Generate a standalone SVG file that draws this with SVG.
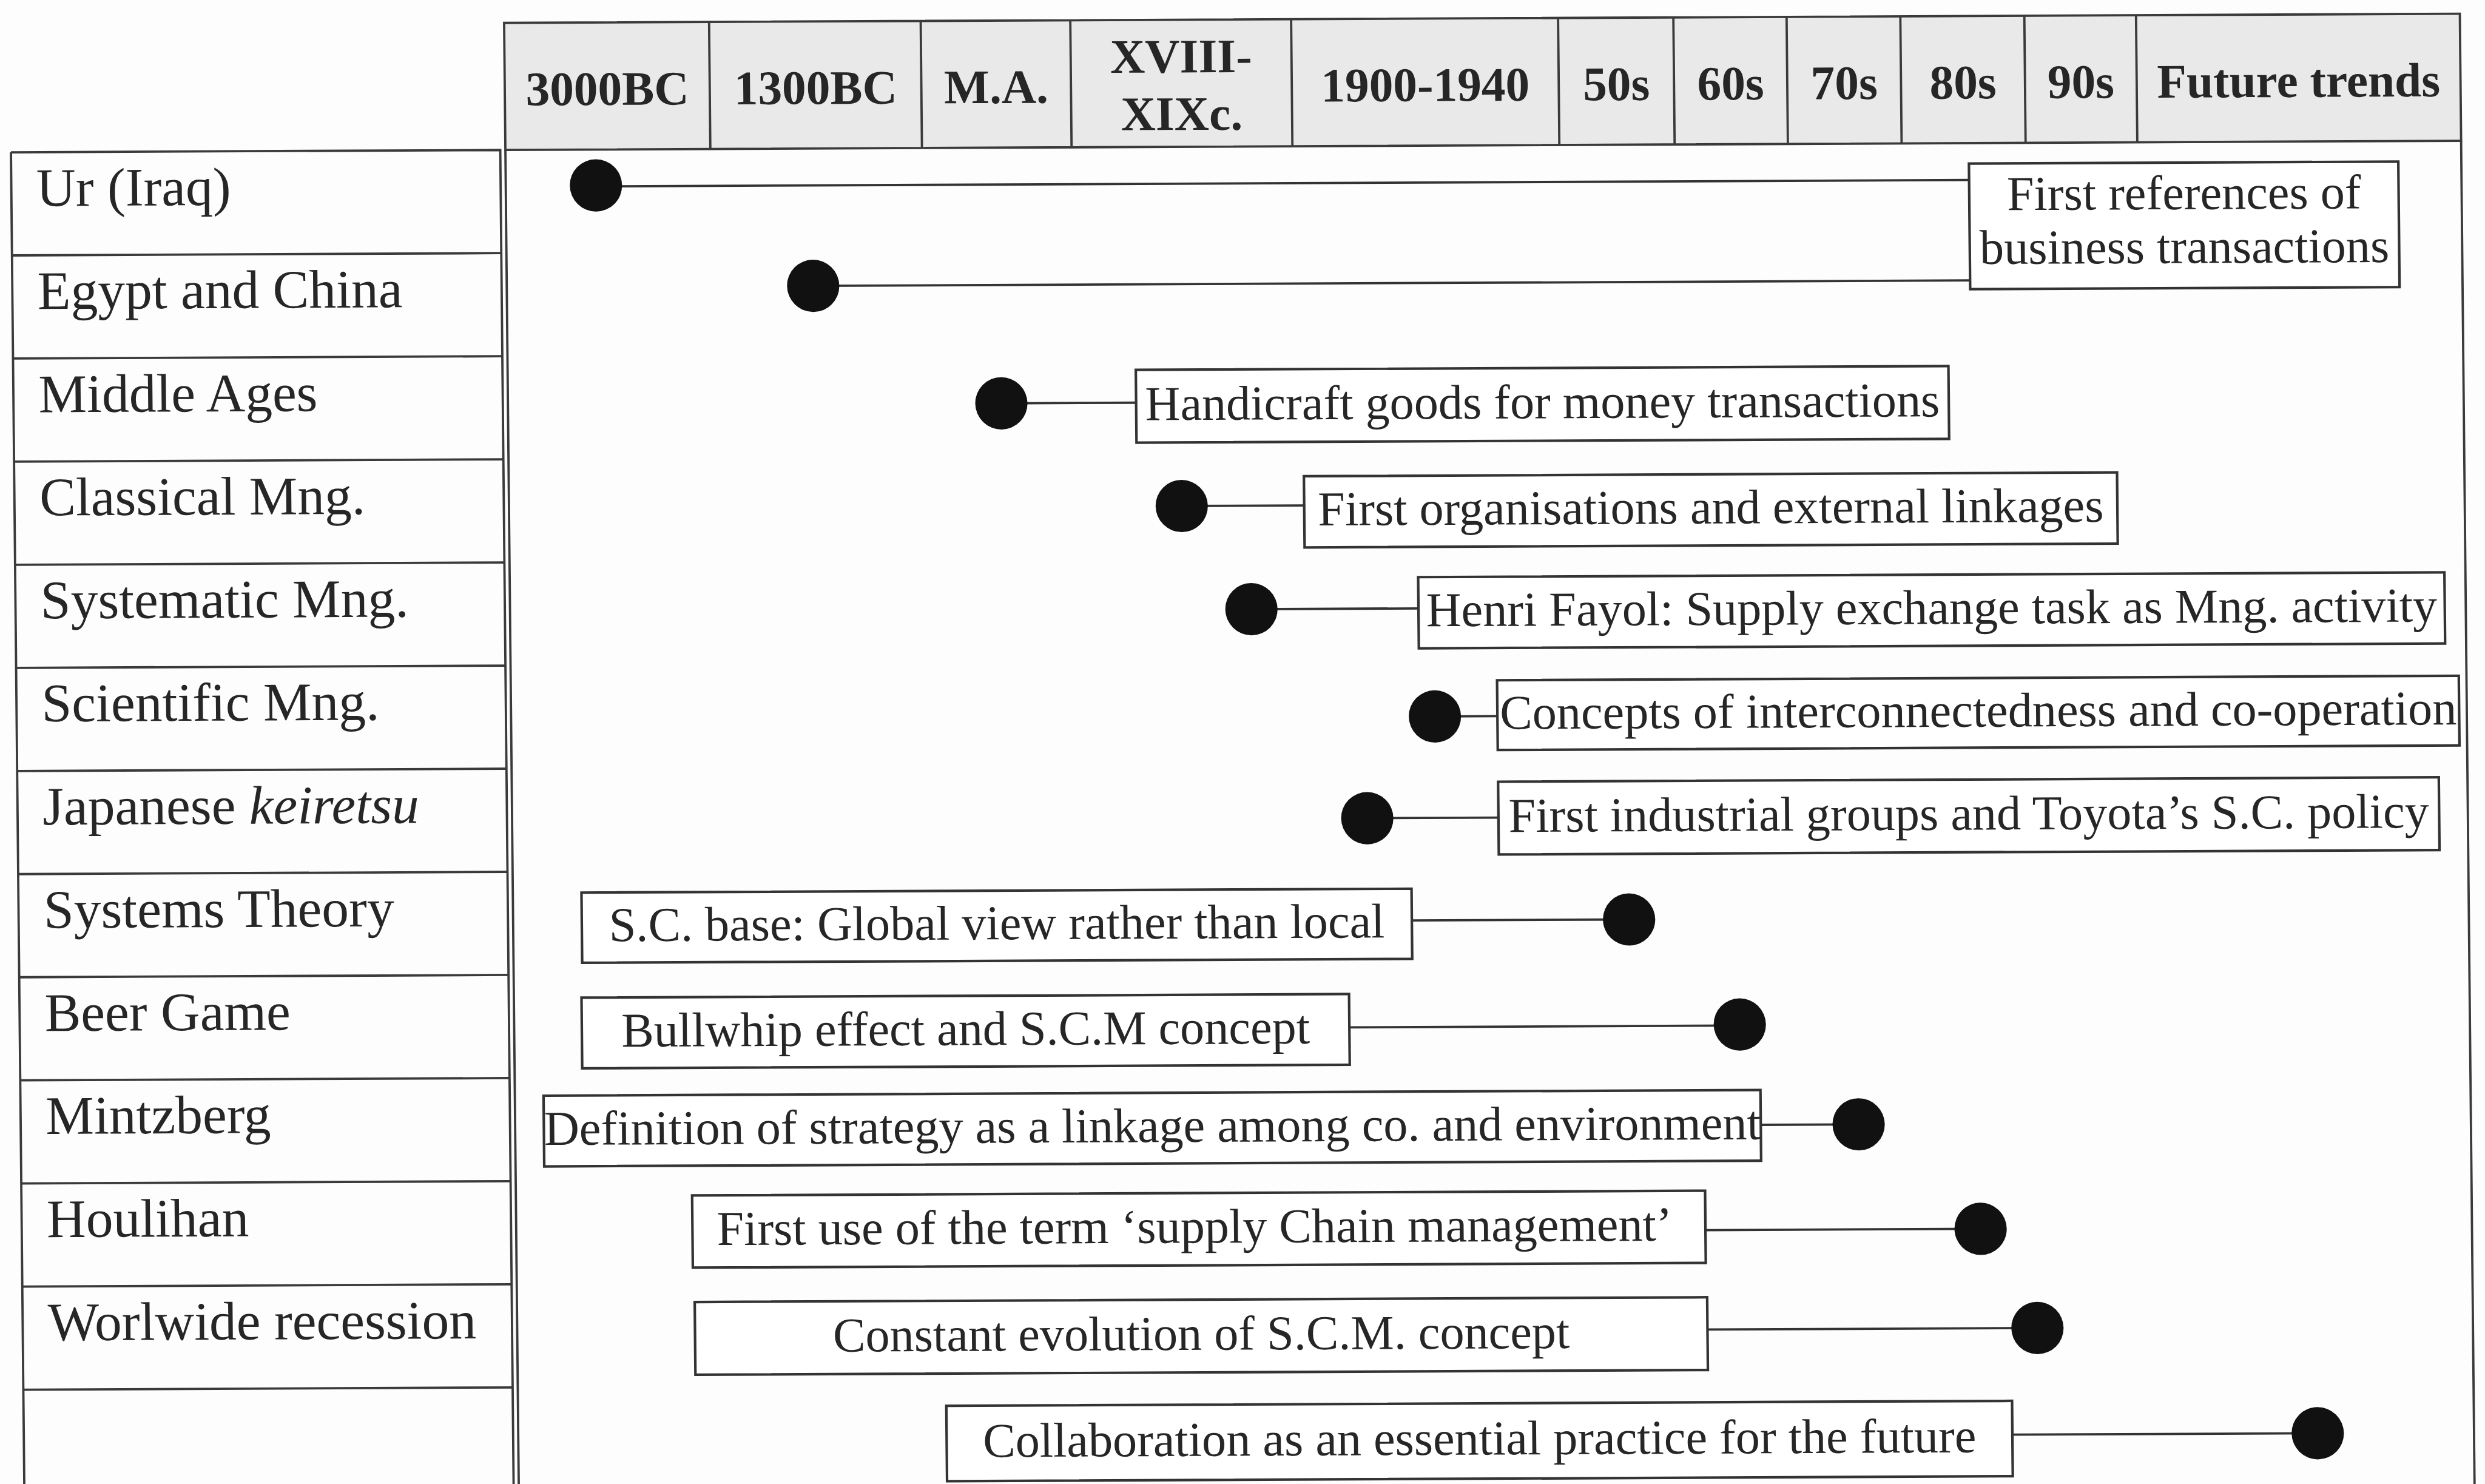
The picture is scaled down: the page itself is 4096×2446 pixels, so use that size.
<svg xmlns="http://www.w3.org/2000/svg" width="4096" height="2446" viewBox="0 0 4096 2446">
  <style>
    .serif { font-family: "Liberation Serif", "Times New Roman", "DejaVu Serif", serif; }
    .lbl { font-size: 106px; fill: #262626; }
    .hdr { font-size: 94px; font-weight: bold; fill: #262626; text-anchor: middle; }
    .evt { font-size: 95px; fill: #262626; text-anchor: middle; }
    .grid { stroke: #3a3a3a; stroke-width: 4.5; fill: none; }
    .head { fill: #e9e9e9; stroke: #3a3a3a; stroke-width: 4.5; }
    .box { fill: #ffffff; stroke: #333333; stroke-width: 5; }
    .link { stroke: #333333; stroke-width: 4.5; fill: none; }
    .dot { fill: #111111; }
  </style>
  <rect x="0" y="0" width="4096" height="2446" fill="#fdfdfd"/>
  <!-- drawn in 4850-wide units, scaled to the page; slight skew follows the printed table -->
  <g transform="scale(0.844536)">
    <g transform="matrix(1 -0.0047 0.01 1 -14.48 11.4)" class="serif">

      <!-- period header -->
      <g id="period-header">
        <rect class="head" x="998" y="38" width="3817" height="248"/>
        <path class="grid" d="M1398 38V286M1811 38V286M2103 38V286M2534 38V286M3055 38V286M3280 38V286M3501 38V286M3723 38V286M3965 38V286M4183 38V286"/>
        <text class="hdr" x="1198" y="199">3000BC</text>
        <text class="hdr" x="1604.5" y="199">1300BC</text>
        <text class="hdr" x="1957" y="199">M.A.</text>
        <text class="hdr" x="2318.5" y="141">XVIII-</text>
        <text class="hdr" x="2318.5" y="253">XIXc.</text>
        <text class="hdr" x="2794.5" y="199">1900-1940</text>
        <text class="hdr" x="3167.5" y="199">50s</text>
        <text class="hdr" x="3390.5" y="199">60s</text>
        <text class="hdr" x="3612" y="199">70s</text>
        <text class="hdr" x="3844" y="199">80s</text>
        <text class="hdr" x="4074" y="199">90s</text>
        <text class="hdr" x="4499" y="199">Future trends</text>
      </g>

      <!-- timeline frame -->
      <g id="timeline-frame">
        <path class="grid" d="M998 286V2960M4815 286V2960"/>
      </g>

      <!-- era / milestone column -->
      <g id="era-column">
        <path class="grid" d="M33 286H988V2960M33 286V2960"/>
        <path class="grid" d="M33 487.25H988M33 688.5H988M33 889.75H988M33 1091H988M33 1292.25H988M33 1493.5H988M33 1694.75H988M33 1896H988M33 2097.25H988M33 2298.5H988M33 2499.75H988M33 2701H988"/>
        <text class="lbl" x="82" y="391">Ur (Iraq)</text>
        <text class="lbl" x="82" y="592">Egypt and China</text>
        <text class="lbl" x="82" y="793.5">Middle Ages</text>
        <text class="lbl" x="82" y="995">Classical Mng.</text>
        <text class="lbl" x="82" y="1196">Systematic Mng.</text>
        <text class="lbl" x="82" y="1397">Scientific Mng.</text>
        <text class="lbl" x="82" y="1598.5">Japanese <tspan font-style="italic">keiretsu</tspan></text>
        <text class="lbl" x="82" y="1800">Systems Theory</text>
        <text class="lbl" x="82" y="2001">Beer Game</text>
        <text class="lbl" x="82" y="2202">Mintzberg</text>
        <text class="lbl" x="82" y="2403.5">Houlihan</text>
        <text class="lbl" x="82" y="2605">Worlwide recession</text>
      </g>

      <!-- connectors: dot to description box -->
      <g id="connectors">
        <path class="link" d="M1174 358H3854"/>
        <path class="link" d="M1596 554H3854"/>
        <path class="link" d="M1961 785H2224"/>
        <path class="link" d="M2311 987H2550"/>
        <path class="link" d="M2445 1189H2771"/>
        <path class="link" d="M2801 1400H2923"/>
        <path class="link" d="M2667 1598H2923"/>
        <path class="link" d="M2752 1798H3176"/>
        <path class="link" d="M2628 2006H3390"/>
        <path class="link" d="M3429 2200H3620"/>
        <path class="link" d="M3319 2405H3856"/>
        <path class="link" d="M3321 2599H3965"/>
        <path class="link" d="M3914 2807H4510"/>
      </g>

      <!-- events -->
      <g id="event-ur">
        <rect class="box" x="3854" y="326" width="838" height="245"/>
        <text class="evt" x="4273" y="417">First references of</text>
        <text class="evt" x="4273" y="522">business transactions</text>
        <circle class="dot" cx="1174" cy="356" r="51"/>
      </g>
      <g id="event-egypt-china">
        <circle class="dot" cx="1596" cy="554" r="51"/>
      </g>
      <g id="event-middle-ages">
        <rect class="box" x="2224" y="721" width="1586" height="142"/>
        <text class="evt" x="3017" y="819">Handicraft goods for money transactions</text>
        <circle class="dot" cx="1961" cy="785" r="51"/>
      </g>
      <g id="event-classical">
        <rect class="box" x="2550" y="930" width="1587" height="139"/>
        <text class="evt" x="3343.5" y="1026">First organisations and external linkages</text>
        <circle class="dot" cx="2311" cy="987" r="51"/>
      </g>
      <g id="event-systematic">
        <rect class="box" x="2771" y="1128" width="2003" height="139"/>
        <text class="evt" x="3772.5" y="1224">Henri Fayol: Supply exchange task as Mng. activity</text>
        <circle class="dot" cx="2445" cy="1189" r="51"/>
      </g>
      <g id="event-scientific">
        <rect class="box" x="2923" y="1330" width="1877" height="136"/>
        <text class="evt" x="3861.5" y="1425">Concepts of interconnectedness and co-operation</text>
        <circle class="dot" cx="2801" cy="1400" r="51"/>
      </g>
      <g id="event-keiretsu">
        <rect class="box" x="2923" y="1528" width="1836" height="142"/>
        <text class="evt" x="3841" y="1626">First industrial groups and Toyota’s S.C. policy</text>
        <circle class="dot" cx="2667" cy="1598" r="51"/>
      </g>
      <g id="event-systems-theory">
        <rect class="box" x="1132" y="1736" width="1620" height="137"/>
        <text class="evt" x="1942" y="1831">S.C. base: Global view rather than local</text>
        <circle class="dot" cx="3176" cy="1798" r="51"/>
      </g>
      <g id="event-beer-game">
        <rect class="box" x="1130" y="1941" width="1498" height="138"/>
        <text class="evt" x="1879" y="2037">Bullwhip effect and S.C.M concept</text>
        <circle class="dot" cx="3390" cy="2004" r="51"/>
      </g>
      <g id="event-mintzberg">
        <rect class="box" x="1054" y="2132" width="2375" height="138"/>
        <text class="evt" x="2241.5" y="2228">Definition of strategy as a linkage among co. and environment</text>
        <circle class="dot" cx="3620" cy="2200" r="51"/>
      </g>
      <g id="event-houlihan">
        <rect class="box" x="1342" y="2328" width="1977" height="141"/>
        <text class="evt" x="2322" y="2425">First use of the term ‘supply Chain management’</text>
        <circle class="dot" cx="3856" cy="2405" r="51"/>
      </g>
      <g id="event-recession">
        <rect class="box" x="1345" y="2536" width="1976" height="142"/>
        <text class="evt" x="2333" y="2634">Constant evolution of S.C.M. concept</text>
        <circle class="dot" cx="3965" cy="2599" r="51"/>
      </g>
      <g id="event-future">
        <rect class="box" x="1834" y="2741" width="2080" height="147"/>
        <text class="evt" x="2874" y="2841">Collaboration as an essential practice for the future</text>
        <circle class="dot" cx="4510" cy="2807" r="51"/>
      </g>
    </g>
  </g>
</svg>
